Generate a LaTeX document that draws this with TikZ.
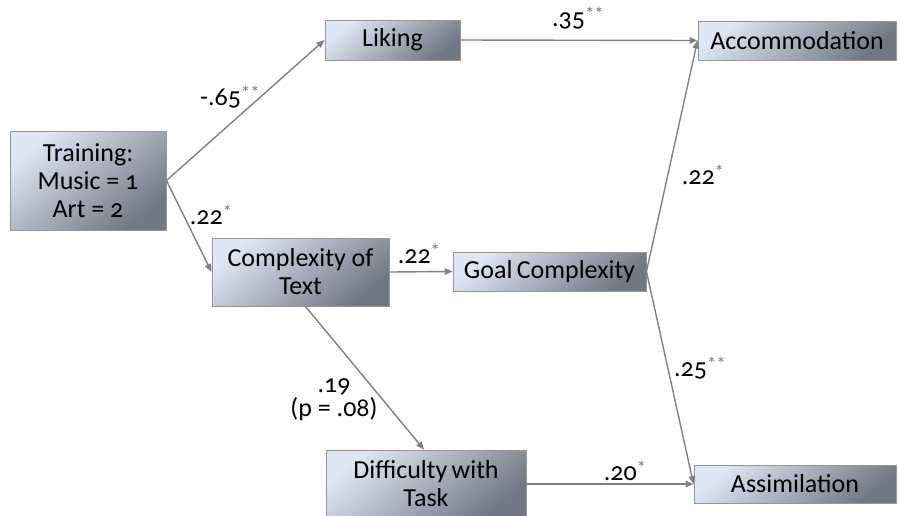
\documentclass[tikz,border=0pt]{standalone}
\usepackage{fontspec}
\setmainfont{Carlito}[Numbers=OldStyle]
\usetikzlibrary{arrows.meta}
\definecolor{boxtl}{RGB}{222,232,244}
\definecolor{boxbr}{RGB}{112,120,132}
\definecolor{edgegray}{RGB}{150,150,150}
\definecolor{arrowgray}{RGB}{128,128,128}
\definecolor{stargray}{RGB}{120,120,120}
\newcommand\sigst[1]{\textcolor{stargray}{\raisebox{0.22em}{\fontsize{19}{19}\selectfont #1}}}
\begin{document}
\begin{tikzpicture}[x=1pt,y=-1pt,
  box/.style={draw=edgegray, line width=0.9pt, top color=boxtl, bottom color=boxbr,
    shading angle=40, inner sep=0pt, align=center, text=black,
    font=\fontsize{26}{28}\selectfont},
  conn/.style={draw=arrowgray, line width=1.4pt, -{Triangle[length=8pt,width=6.5pt]}},
  lab/.style={font=\fontsize{26}{26}\selectfont, align=center, inner sep=0pt, text=black}]
\useasboundingbox (0,0) rectangle (901,515);
\node[box, minimum width=156pt, minimum height=99pt] (train) at (88,180.5) {Training:\\Music = 1\\Art = 2};
\node[box, minimum width=135pt, minimum height=40pt] (liking) at (392.5,40) {Liking};
\node[box, minimum width=198pt, minimum height=39pt] (accom) at (797,40.5) {Accommodation};
\node[box, minimum width=177pt, minimum height=68pt] (ctext) at (300.5,272) {Complexity of\\Text};
\node[box, minimum width=193pt, minimum height=39pt] (goal) at (549.5,271.5) {Goal\,Complexity};
\node[box, minimum width=200pt, minimum height=68pt] (diff) at (426,484) {Difficulty\,with\\Task};
\node[box, minimum width=202pt, minimum height=38pt] (assim) at (795,484) {Assimilation};
\draw[conn] (train.east) -- (liking.west);
\draw[conn] (train.east) -- (ctext.west);
\draw[conn] (liking.east) -- (accom.west);
\draw[conn] (ctext.east) -- (goal.west);
\draw[conn] (goal.east) -- (accom.west);
\draw[conn] (goal.east) -- (assim.west);
\draw[conn] ([xshift=5pt]ctext.south) -- ([xshift=-2pt]diff.north);
\draw[conn] (diff.east) -- (assim.west);
\node[lab] (l1) at (230,97) {-.65\sigst{**}};
\node[lab] (l2) at (578,18) {.35\sigst{**}};
\node[lab] (l3) at (211,215) {.22\sigst{*}};
\node[lab] (l4) at (419,254) {.22\sigst{*}};
\node[lab] (l5) at (703,175) {.22\sigst{*}};
\node[lab] (l6) at (700,368) {.25\sigst{**}};
\node[lab] (l7) at (334,400) {.19\\[-2pt](p = .08)};
\node[lab] (l8) at (625,471) {.20\sigst{*}};
\end{tikzpicture}
\end{document}
